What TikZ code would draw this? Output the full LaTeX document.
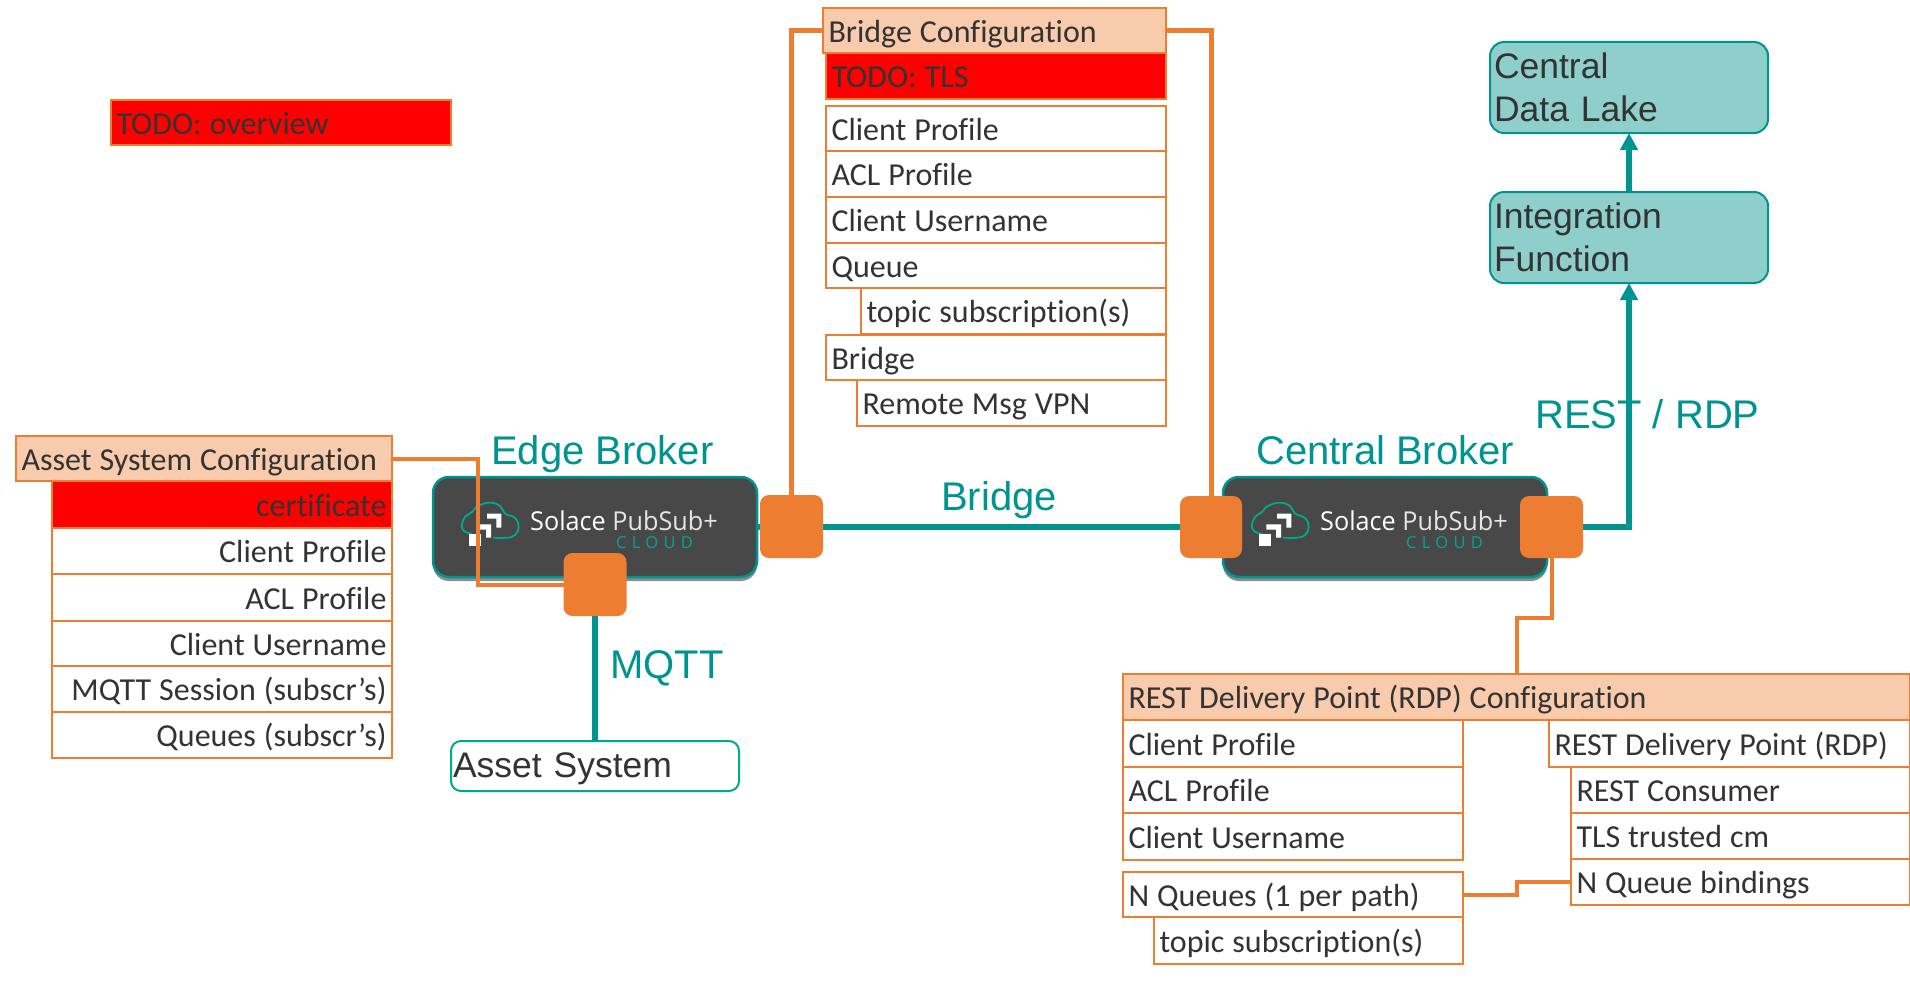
\documentclass[tikz,border=0pt]{standalone}
\usepackage{fontspec}
\setmainfont[RawFeature={-liga}]{Carlito}
\newfontfamily\arialf{Liberation Sans}
\newfontfamily\logof{Open Sans}
\newfontfamily\cloudf[LetterSpace=32]{Open Sans}
\usetikzlibrary{arrows.meta,shadows,calc}
\definecolor{orng}{HTML}{ED7D31}
\definecolor{peach}{HTML}{F8CBAD}
\definecolor{tealc}{HTML}{009490}
\definecolor{tealf}{HTML}{8ECFCC}
\definecolor{ink}{HTML}{333333}
\definecolor{brokerf}{HTML}{484848}
\definecolor{logot}{HTML}{00A88F}
\tikzset{
  cellbase/.style={draw=orng,line width=2.4pt,text=ink,inner xsep=5.5pt,inner ysep=0pt,outer sep=0pt,
    text height=31pt,text depth=8pt,font=\fontsize{32}{36}\selectfont},
  lcell/.style={cellbase,align=left},
  rcell/.style={cellbase,align=right},
  header/.style={lcell,fill=peach},
  todo/.style={lcell,fill=red},
  todor/.style={rcell,fill=red},
  tealbox/.style={draw=tealc,line width=2pt,fill=tealf,rounded corners=14pt,text=ink,inner xsep=4pt,inner ysep=0pt,
    outer sep=0pt,align=left,font=\arialf\fontsize{35.5}{42.5}\selectfont},
  assetbox/.style={draw=logot,line width=2pt,fill=white,rounded corners=10pt,text=ink,inner xsep=2pt,inner ysep=0pt,
    outer sep=0pt,align=left,text height=30pt,text depth=8pt,font=\arialf\fontsize{35.5}{42.5}\selectfont},
  brokerbox/.style={draw=tealc,line width=2.5pt,fill=brokerf,rounded corners=16pt,outer sep=0pt,
    drop shadow={shadow xshift=0pt,shadow yshift=-4pt,opacity=.45,fill=black}},
  port/.style={fill=orng,rounded corners=9pt,outer sep=0pt},
  olink/.style={draw=orng,line width=5pt},
  olinkthin/.style={draw=orng,line width=4pt},
  tlink/.style={draw=tealc,line width=5.5pt},
  tarrow/.style={tlink,-{Triangle[length=17pt,width=17pt]}},
  telabel/.style={text=tealc,anchor=base west,inner sep=0pt,font=\arialf\fontsize{40}{46}\selectfont},
  logotext/.style={text=white,anchor=base west,inner sep=0pt,xscale=.97,font=\logof\fontsize{26}{30}\selectfont},
  cloudtext/.style={text=logot,anchor=base west,inner sep=0pt,font=\cloudf\fontsize{16.5}{18}\selectfont},
}
% \cell[style]{name}{x1}{y1}{x2}{y2}{text}
\newcommand{\cell}[7][lcell]{%
  \pgfmathsetmacro\cw{#5-#3}\pgfmathsetmacro\ch{#6-#4}%
  \pgfmathsetmacro\cx{(#3+#5)/2}\pgfmathsetmacro\cy{(#4+#6)/2}%
  \node[#1,minimum width=\cw pt,minimum height=\ch pt,text width=\cw pt-11pt] (#2) at (\cx,\cy) {\spaceskip=8pt\relax #7};}
\newcommand{\plain}[6]{%
  \pgfmathsetmacro\cw{#4-#2}\pgfmathsetmacro\ch{#5-#3}%
  \pgfmathsetmacro\cx{(#2+#4)/2}\pgfmathsetmacro\cy{(#3+#5)/2}%
  \node[#1,minimum width=\cw pt,minimum height=\ch pt] (#6) at (\cx,\cy) {};}
\newcommand{\solacelogo}[1]{%
  \begin{scope}[shift={(#1.north west)}]
    \draw[logot,line width=1.8pt,line cap=round] plot[smooth,tension=.75] coordinates
      {(39,57) (31,54) (29,48) (32,40) (39,35) (45,29) (57,25.7) (67,29) (72.3,36.7) (82,41) (85.7,50) (82,58) (74,60.7) (60.7,60.7)};
    \fill[white] (54,36.7) -- (68.3,36.7) -- (68.3,50.7) -- (63.3,50.7) -- (63.3,41.7) -- (54,41.7) -- cycle;
    \fill[white] (43.3,47.3) -- (58,47.3) -- (58,60.7) -- (53,60.7) -- (53,52.7) -- (43.3,52.7) -- cycle;
    \fill[white] (36.3,57.3) rectangle (48,68.7);
    \node[logotext] (#1solace) at (97,53) {Solace \textcolor{white!90!black}{PubSub+}};
    \node[cloudtext] (#1cloud) at (183,71) {CLOUD};
  \end{scope}}
\begin{document}
\begin{tikzpicture}[x=1pt,y=-1pt]
\useasboundingbox (0,0) rectangle (1910,982);
\fill[white] (0,0) rectangle (1910,982);

% overview
\cell[todo]{overview}{111}{100}{451}{145}{TODO: overview}

% bridge configuration
\cell[todo]{btodo}{826}{53}{1166}{99}{TODO: TLS}
\cell{bcp}{826}{106}{1166}{151}{Client Profile}
\cell{bacl}{826}{151}{1166}{197}{ACL Profile}
\cell{bcu}{826}{197}{1166}{243}{Client Username}
\cell{bq}{826}{243}{1166}{288}{Queue}
\cell{bts}{861}{288}{1166}{334}{topic subscription(s)}
\cell{bb}{826}{335}{1166}{380}{Bridge}
\cell{brm}{857}{380}{1166}{426}{Remote Msg VPN}
\cell[header]{bhdr}{823}{8}{1166}{53}{Bridge Configuration}

% asset configuration
\cell[todor]{acert}{52}{481}{392}{528}{certificate}
\cell[rcell]{acp}{52}{528}{392}{574}{Client Profile}
\cell[rcell]{aacl}{52}{574}{392}{621}{ACL Profile}
\cell[rcell]{acu}{52}{621}{392}{666}{Client Username}
\cell[rcell]{ams}{52}{666}{392}{712}{MQTT Session (subscr’s)}
\cell[rcell]{aq}{52}{712}{392}{758}{Queues (subscr’s)}
\cell[header]{ahdr}{16}{436}{392}{481}{Asset System Configuration}

% RDP configuration
\cell{rcp}{1123}{720}{1463}{767}{Client Profile}
\cell{racl}{1123}{767}{1463}{813}{ACL Profile}
\cell{rcu}{1123}{813}{1463}{860}{Client Username}
\cell{rnq}{1123}{872}{1463}{917}{N Queues (1 per path)}
\cell{rts}{1154}{917}{1463}{964}{topic subscription(s)}
\cell{rrdp}{1549}{720}{1910}{767}{REST Delivery Point (RDP)}
\cell{rrc}{1571}{767}{1910}{813}{REST Consumer}
\cell{rtls}{1571}{813}{1910}{859}{TLS trusted cm}
\cell{rnb}{1571}{859}{1910}{905}{N Queue bindings}
\cell[header]{rhdr}{1123}{674}{1910}{720}{REST Delivery Point (RDP) Configuration}

% teal boxes
\node[tealbox,minimum width=278pt,minimum height=91pt,text width=270pt] (lake) at (1629,87.5) {\raisebox{-1pt}{Central}\\\raisebox{-1pt}{Data Lake}};
\node[tealbox,minimum width=278pt,minimum height=91pt,text width=270pt] (integ) at (1629,237.5) {\raisebox{-1pt}{Integration}\\\raisebox{-1pt}{Function}};
\node[assetbox,minimum width=288pt,minimum height=50pt,text width=284pt] (asset) at (595,766) {Asset System};

% brokers
\plain{brokerbox}{433}{477}{757}{577}{edgebox}
\plain{brokerbox}{1223}{477}{1547}{577}{centralbox}
\solacelogo{edgebox}
\solacelogo{centralbox}

% labels
\node[telabel] (ledge) at (491,464) {Edge Broker};
\node[telabel] (lcentral) at (1256,464) {Central Broker};
\node[telabel] (lbridge) at (941,510) {Bridge};
\node[telabel] (lmqtt) at (610,678) {MQTT};
\node[telabel] (lrest) at (1535,428) {REST / RDP};

% bridge link
\draw[tlink] (edgebox.east) -- (centralbox.west);

% ports
\plain{port}{760}{495}{823}{558}{edgeR}
\plain{port}{563.5}{553}{626.5}{616}{edgeB}
\plain{port}{1180}{496}{1242}{558}{centralL}
\plain{port}{1520}{496}{1583}{558}{centralR}

% teal connectors
\draw[tlink] (edgeB.south) -- (edgeB.south |- asset.north);
\draw[tarrow] (centralR.east) -| (integ.south);
\draw[tarrow] (integ.north) -- (lake.south);

% orange connectors
\coordinate (abend) at (478,585);
\coordinate (rbend) at (1517,618);
\coordinate (qmid) at (1517,888);
\draw[olink] (bhdr.west) -| (edgeR.north);
\draw[olink] (bhdr.east) -| (centralL.north);
\draw[olinkthin] (ahdr.east) -| (abend) -- (abend -| edgeB.west);
\draw[olinkthin] (centralR.south) |- (rbend) -- (rbend |- rhdr.north);
\draw[olinkthin] (rnq.east) -| (qmid) |- (rnb.west);
\end{tikzpicture}
\end{document}
